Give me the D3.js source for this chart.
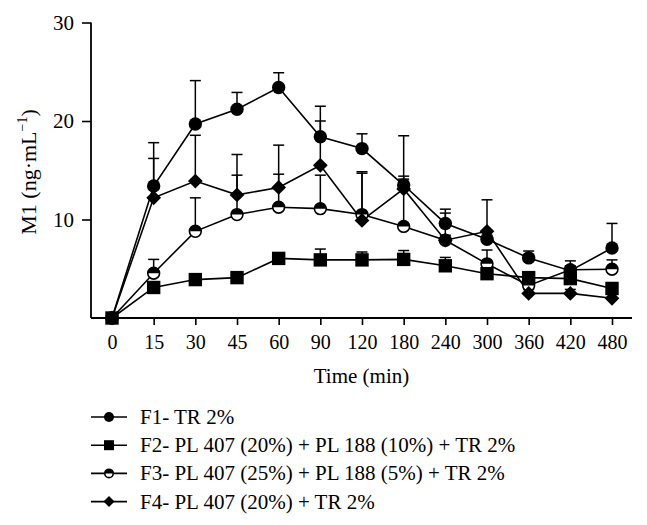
<!DOCTYPE html>
<html>
<head>
<meta charset="utf-8">
<script src="https://cdn.jsdelivr.net/npm/d3@7"></script>
<style>
  html, body { margin: 0; padding: 0; background: #fff; }
  svg { display: block; font-family: "Liberation Serif", "Times New Roman", serif; }
</style>
</head>
<body>
<svg id="chart" width="647" height="525"></svg>
<script>
// ---- data ----
const times = ["0","15","30","45","60","90","120","180","240","300","360","420","480"];
const f1 =    [0, 13.4, 19.7, 21.2, 23.4, 18.4, 17.2, 13.5, 9.6, 8.0, 6.1, 4.8, 7.1];
const f1Err = [0, 4.4, 4.4, 1.7, 1.5, 3.1, 1.5, 5.0, 1.45, 0.4, 0.7, 1.0, 2.5];
const f2 =    [0, 3.1, 3.9, 4.1, 6.05, 5.9, 5.9, 5.95, 5.3, 4.5, 4.1, 4.0, 3.0];
const f2Err = [0, 0.4, 0.4, 0.4, 0.4, 1.1, 0.8, 0.9, 0.85, 0.4, 0.5, 0.4, 0.4];
const f3 =    [0, 4.55, 8.8, 10.5, 11.25, 11.1, 10.5, 9.3, 7.9, 5.5, 3.3, 4.9, 4.95];
const f3Err = [0, 1.4, 3.4, 4.0, 3.35, 3.4, 4.2, 4.8, 0.5, 1.4, 0.4, 0.4, 0.95];
const f4 =    [0, 12.2, 13.9, 12.5, 13.25, 15.5, 9.9, 13.1, 7.9, 8.8, 2.5, 2.5, 2.0];
const f4Err = [0, 4.0, 4.65, 4.1, 4.3, 4.5, 4.95, 1.3, 2.75, 3.2, 0.4, 0.4, 0.4];
const seriesNames = [
  "F1- TR 2%",
  "F2- PL 407 (20%) + PL 188 (10%) + TR 2%",
  "F3- PL 407 (25%) + PL 188 (5%) + TR 2%",
  "F4- PL 407 (20%) + TR 2%"
];
const seriesShapes = ["circle", "square", "halfcircle", "diamond"];
const yTicks = [10, 20, 30];
const xTitle = "Time (min)";

const series = [
  { name: seriesNames[0], shape: seriesShapes[0], values: f1, err: f1Err },
  { name: seriesNames[1], shape: seriesShapes[1], values: f2, err: f2Err },
  { name: seriesNames[2], shape: seriesShapes[2], values: f3, err: f3Err },
  { name: seriesNames[3], shape: seriesShapes[3], values: f4, err: f4Err }
];
const drawOrder = [2, 3, 0, 1];

// ---- layout ----
const svg = d3.select("#chart");
const axisX0 = 91, axisX1 = 632, axisY = 318;
const x = d3.scalePoint().domain(times).range([112, 612]);
const y = d3.scaleLinear().domain([0, 30]).range([318, 22.5]);

// axes
const gx = svg.append("g").attr("transform", `translate(0,${axisY})`)
  .call(d3.axisBottom(x).tickSize(7).tickSizeOuter(0));
gx.select(".domain").remove();
gx.selectAll(".tick line").attr("stroke", "#000").attr("stroke-width", 1.6);
gx.selectAll(".tick text").attr("font-family", "Liberation Serif").attr("font-size", 20)
  .attr("fill", "#000").attr("y", 31).attr("dy", 0);
svg.append("line").attr("x1", axisX0).attr("x2", axisX1).attr("y1", axisY).attr("y2", axisY)
  .attr("stroke", "#000").attr("stroke-width", 1.8);

const gy = svg.append("g").attr("transform", `translate(${axisX0},0)`)
  .call(d3.axisLeft(y).tickValues(yTicks).tickSize(9).tickPadding(8).tickSizeOuter(0));
gy.select(".domain").remove();
gy.selectAll(".tick line").attr("stroke", "#000").attr("stroke-width", 1.6);
gy.selectAll(".tick text").attr("font-family", "Liberation Serif").attr("font-size", 21)
  .attr("fill", "#000");
svg.append("line").attr("x1", axisX0).attr("x2", axisX0).attr("y1", y(30)).attr("y2", axisY)
  .attr("stroke", "#000").attr("stroke-width", 1.8);

// axis titles
svg.append("text").attr("x", (axisX0 + axisX1) / 2).attr("y", 383)
  .attr("text-anchor", "middle").attr("font-size", 21).text(xTitle);

const yt = svg.append("text").attr("transform", "translate(36,172) rotate(-90)")
  .attr("text-anchor", "middle").attr("font-size", 22);
yt.append("tspan").text("M1 (ng·mL");
yt.append("tspan").attr("font-size", 14).attr("dy", -9).text("−1");
yt.append("tspan").attr("dy", 9).text(")");

// ---- marks ----
const line = d3.line().x((d, i) => x(times[i])).y(d => y(d));

// error bars
series.forEach(s => {
  const g = svg.append("g").attr("stroke", "#000").attr("stroke-width", 1.5);
  s.values.forEach((v, i) => {
    if (!s.err[i]) return;
    const cx = x(times[i]), y0 = y(v), y1 = y(v + s.err[i]);
    g.append("line").attr("x1", cx).attr("x2", cx).attr("y1", y0).attr("y2", y1);
    g.append("line").attr("x1", cx - 5.5).attr("x2", cx + 5.5).attr("y1", y1).attr("y2", y1);
  });
});

// lines
series.forEach(s => {
  svg.append("path").datum(s.values).attr("d", line)
    .attr("fill", "none").attr("stroke", "#000").attr("stroke-width", 1.6);
});

function drawMarker(g, shape, cx, cy, size) {
  if (shape === "circle") {
    g.append("circle").attr("cx", cx).attr("cy", cy).attr("r", size).attr("fill", "#000");
  } else if (shape === "square") {
    g.append("rect").attr("x", cx - size).attr("y", cy - size)
      .attr("width", size * 2).attr("height", size * 2).attr("fill", "#000");
  } else if (shape === "diamond") {
    const r = size * 1.1;
    g.append("path").attr("d", `M${cx},${cy - r}L${cx + r},${cy}L${cx},${cy + r}L${cx - r},${cy}Z`)
      .attr("fill", "#000");
  } else if (shape === "halfcircle") {
    const r = size - 0.8;
    g.append("circle").attr("cx", cx).attr("cy", cy).attr("r", r)
      .attr("fill", "#fff").attr("stroke", "#000").attr("stroke-width", 1.6);
    g.append("path").attr("d", `M${cx - r},${cy}A${r},${r} 0 0 1 ${cx + r},${cy}Z`).attr("fill", "#000");
  }
}

drawOrder.forEach(k => {
  const s = series[k];
  const g = svg.append("g");
  s.values.forEach((v, i) => drawMarker(g, s.shape, x(times[i]), y(v), 6.7));
});

// ---- legend ----
const legendY0 = 417, legendStep = 28.2;
series.forEach((s, i) => {
  const ly = legendY0 + i * legendStep;
  const g = svg.append("g");
  g.append("line").attr("x1", 91).attr("x2", 127).attr("y1", ly).attr("y2", ly)
    .attr("stroke", "#000").attr("stroke-width", 1.6);
  drawMarker(g, s.shape, 109, ly, 5);
  g.append("text").attr("x", 140).attr("y", ly + 7).attr("font-size", 21).text(s.name);
});
</script>
</body>
</html>
